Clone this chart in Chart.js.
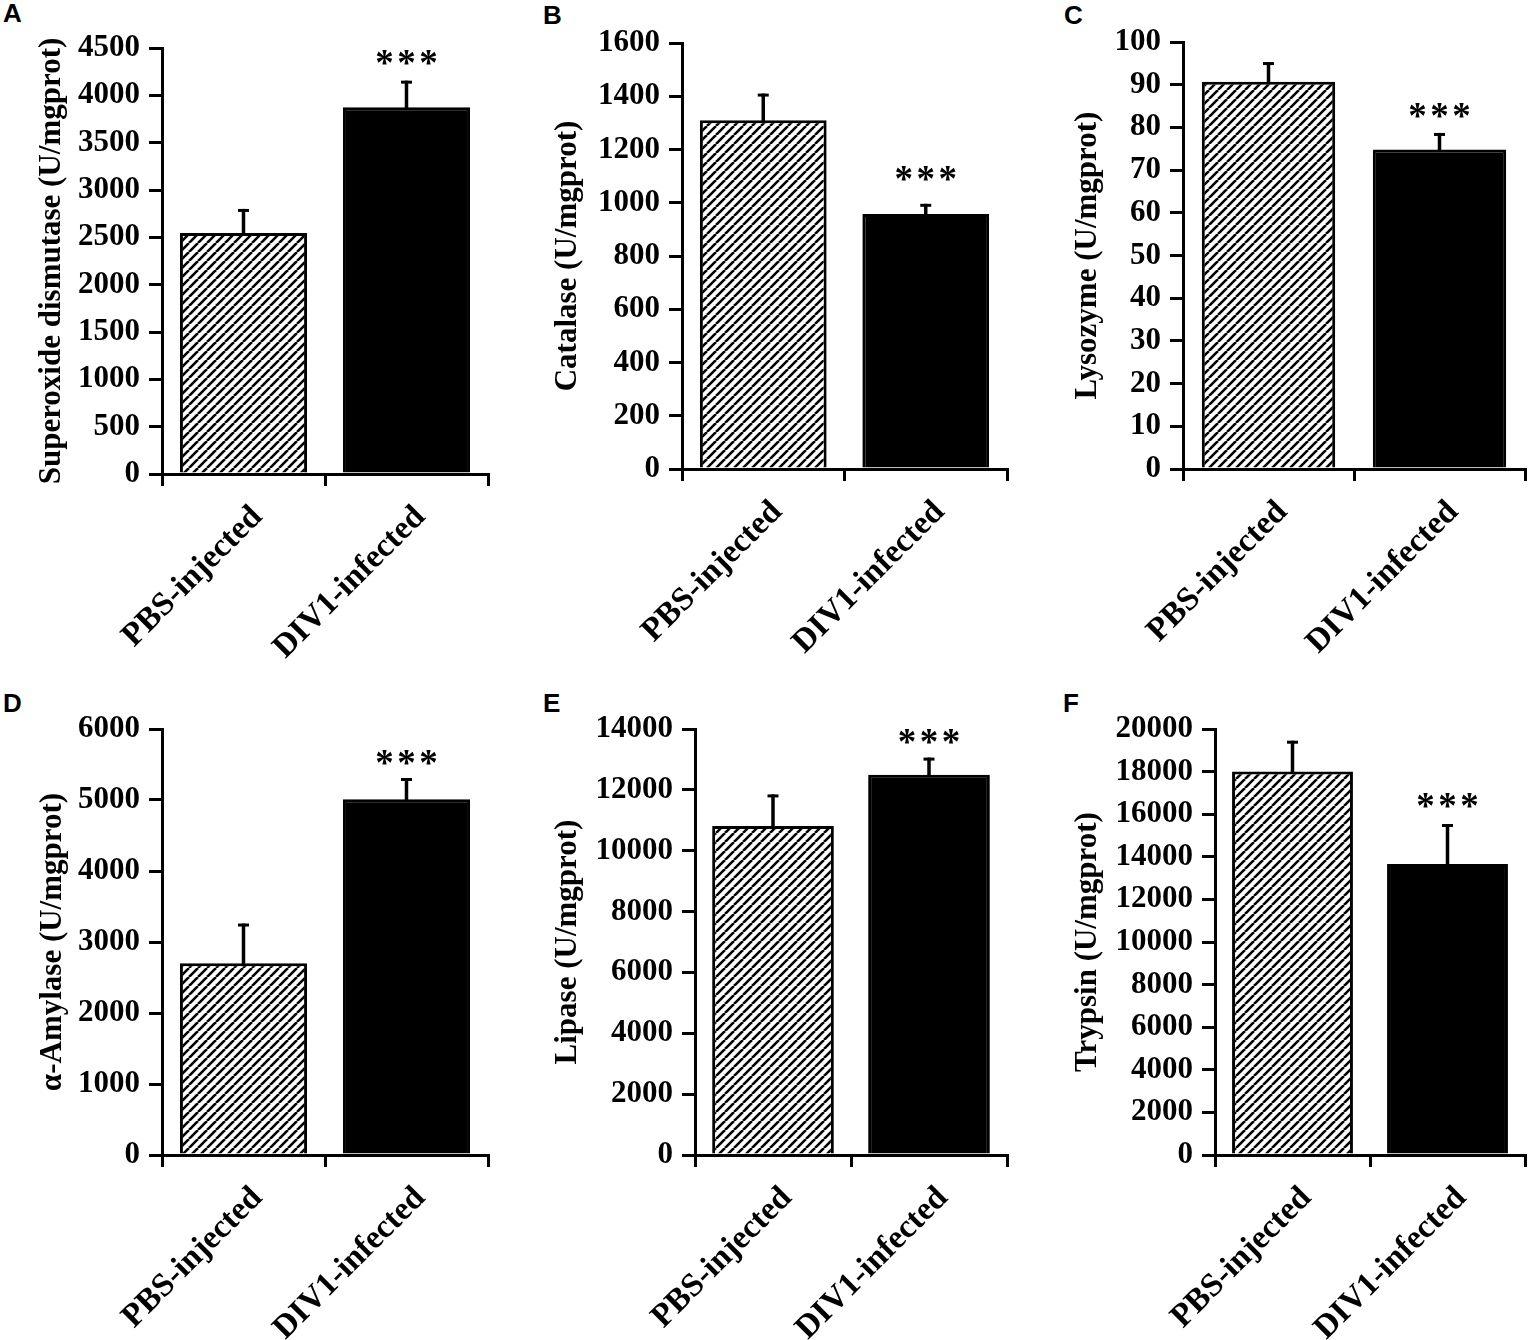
<!DOCTYPE html>
<html>
<head>
<meta charset="utf-8">
<script src="https://cdn.jsdelivr.net/npm/chart.js@4.4.1/dist/chart.umd.min.js"></script>
<style>
html,body{margin:0;padding:0;background:#fff;}
body{width:1535px;height:1340px;position:relative;overflow:hidden;}
.pn{position:absolute;}
.lbl{position:absolute;font:bold 26px 'Liberation Sans',Arial,sans-serif;line-height:1;color:#000;}
</style>
</head>
<body>
<script>
// ---------------- data ----------------
const categories = ['PBS-injected', 'DIV1-infected'];
const panelLetters = ['A', 'B', 'C', 'D', 'E', 'F'];
const yTitles = [
  'Superoxide dismutase (U/mgprot)',
  'Catalase (U/mgprot)',
  'Lysozyme (U/mgprot)',
  'α-Amylase (U/mgprot)',
  'Lipase (U/mgprot)',
  'Trypsin (U/mgprot)'
];
const significance = ['', '***'];

const sodMean = [2545, 3875];   const sodErr = [255, 280];
const catMean = [1310, 958];    const catErr = [100, 38];
const lysMean = [90.7, 74.8];   const lysErr = [4.6, 3.9];
const amyMean = [2700, 5010];   const amyErr = [560, 300];
const lipMean = [10810, 12500]; const lipErr = [1040, 560];
const tryMean = [18000, 13660]; const tryErr = [1450, 1880];

// y-axis ticks: [min, max, step]
const sodTicks = [0, 4500, 500];
const catTicks = [0, 1600, 200];
const lysTicks = [0, 100, 10];
const amyTicks = [0, 6000, 1000];
const lipTicks = [0, 14000, 2000];
const tryTicks = [0, 20000, 2000];

const means = [sodMean, catMean, lysMean, amyMean, lipMean, tryMean];
const errs = [sodErr, catErr, lysErr, amyErr, lipErr, tryErr];
const tickSets = [sodTicks, catTicks, lysTicks, amyTicks, lipTicks, tryTicks];

// ---------------- layout (positions / sizes only) ----------------
const layout = [
  {l: 0,    t: 0,   w: 500, h: 670, yw: 162, xh: 196, pt: 48, pr: 12, tc: 52, gap: 24, lx: 3,    ly: 0},
  {l: 500,  t: 0,   w: 520, h: 670, yw: 182, xh: 201, pt: 43, pr: 13, tc: 68, gap: 31, lx: 543,  ly: 2},
  {l: 1020, t: 0,   w: 515, h: 670, yw: 163, xh: 201, pt: 42, pr: 10, tc: 68, gap: 23, lx: 1064, ly: 2},
  {l: 0,    t: 680, w: 500, h: 660, yw: 162, xh: 185, pt: 49, pr: 12, tc: 53, gap: 21, lx: 3,    ly: 690},
  {l: 500,  t: 680, w: 520, h: 660, yw: 195, xh: 185, pt: 49, pr: 13, tc: 68, gap: 22, lx: 543,  ly: 690},
  {l: 1020, t: 680, w: 515, h: 660, yw: 195, xh: 185, pt: 49, pr: 10, tc: 68, gap: 24, lx: 1063, ly: 690}
];

const SERIF = "'Liberation Serif', 'Times New Roman', serif";

function makeHatch(ctx) {
  const s = 9;
  const c = document.createElement('canvas');
  c.width = s; c.height = s;
  const g = c.getContext('2d');
  g.fillStyle = '#fff';
  g.fillRect(0, 0, s, s);
  g.strokeStyle = '#000';
  g.lineWidth = 2.6;
  g.beginPath();
  for (const o of [-s, 0, s]) { g.moveTo(o, s); g.lineTo(o + s, 0); }
  g.stroke();
  return ctx.createPattern(c, 'repeat');
}

const errPlugin = {
  id: 'errbars',
  afterDatasetsDraw(chart, args, opts) {
    const ctx = chart.ctx;
    const y = chart.scales.y;
    const meta = chart.getDatasetMeta(0);
    const data = chart.data.datasets[0].data;
    ctx.save();
    ctx.strokeStyle = '#000';
    ctx.fillStyle = '#000';
    meta.data.forEach((bar, i) => {
      const top = y.getPixelForValue(data[i] + opts.err[i]);
      ctx.lineWidth = 3.5;
      ctx.beginPath();
      ctx.moveTo(bar.x, bar.y + 2);
      ctx.lineTo(bar.x, top);
      ctx.stroke();
      ctx.lineWidth = 3;
      ctx.beginPath();
      ctx.moveTo(bar.x - 5.5, top + 1.5);
      ctx.lineTo(bar.x + 5.5, top + 1.5);
      ctx.stroke();
      const sig = opts.sig[i];
      if (sig) {
        ctx.font = 'bold 37px ' + SERIF;
        ctx.textAlign = 'center';
        ctx.textBaseline = 'alphabetic';
        const chars = sig.split('');
        chars.forEach((ch, k) => {
          ctx.fillText(ch, bar.x + (k - (chars.length - 1) / 2) * 22, top - opts.gap + 18);
        });
      }
    });
    ctx.restore();
  }
};

panelLetters.forEach((letter, p) => {
  const L = layout[p];
  const d = document.createElement('div');
  d.className = 'lbl';
  d.style.left = L.lx + 'px';
  d.style.top = L.ly + 'px';
  d.textContent = letter;
  document.body.appendChild(d);

  const cv = document.createElement('canvas');
  cv.className = 'pn';
  cv.width = L.w; cv.height = L.h;
  cv.style.left = L.l + 'px';
  cv.style.top = L.t + 'px';
  cv.style.width = L.w + 'px';
  cv.style.height = L.h + 'px';
  document.body.appendChild(cv);
  const ctx = cv.getContext('2d');
  const hatch = makeHatch(ctx);
  const tk = tickSets[p];

  new Chart(ctx, {
    type: 'bar',
    data: {
      labels: categories,
      datasets: [{
        data: means[p],
        backgroundColor: [hatch, '#000'],
        borderColor: '#000',
        borderWidth: 3,
        barPercentage: 0.78,
        categoryPercentage: 1
      }]
    },
    options: {
      responsive: false,
      animation: false,
      events: [],
      layout: {padding: {top: L.pt, right: L.pr, left: 0, bottom: 0}},
      plugins: {
        legend: {display: false},
        tooltip: {enabled: false},
        errbars: {err: errs[p], sig: significance, gap: L.gap}
      },
      scales: {
        x: {
          offset: true,
          ticks: {
            color: '#000',
            font: {family: SERIF, weight: 'bold', size: 33},
            minRotation: 45, maxRotation: 45,
            autoSkip: false,
            padding: 12,
            labelOffset: 14
          },
          grid: {display: true, offset: true, drawOnChartArea: false, drawTicks: true,
                 tickLength: 12, color: '#000', lineWidth: 3},
          border: {display: true, color: '#000', width: 3},
          afterFit(s) { s.height = L.xh; }
        },
        y: {
          min: tk[0], max: tk[1],
          ticks: {
            stepSize: tk[2],
            color: '#000',
            font: {family: SERIF, weight: 'bold', size: 31},
            padding: 9,
            callback: (v) => String(v)
          },
          grid: {display: true, drawOnChartArea: false, drawTicks: true,
                 tickLength: 13, color: '#000', lineWidth: 3},
          border: {display: true, color: '#000', width: 3},
          title: {
            display: true,
            text: yTitles[p],
            color: '#000',
            font: {family: SERIF, weight: 'bold', size: 31, lineHeight: 1.2},
            padding: {top: L.tc - 18.6, bottom: 0}
          },
          afterFit(s) { s.width = L.yw; }
        }
      }
    },
    plugins: [errPlugin]
  });
});
</script>
</body>
</html>
